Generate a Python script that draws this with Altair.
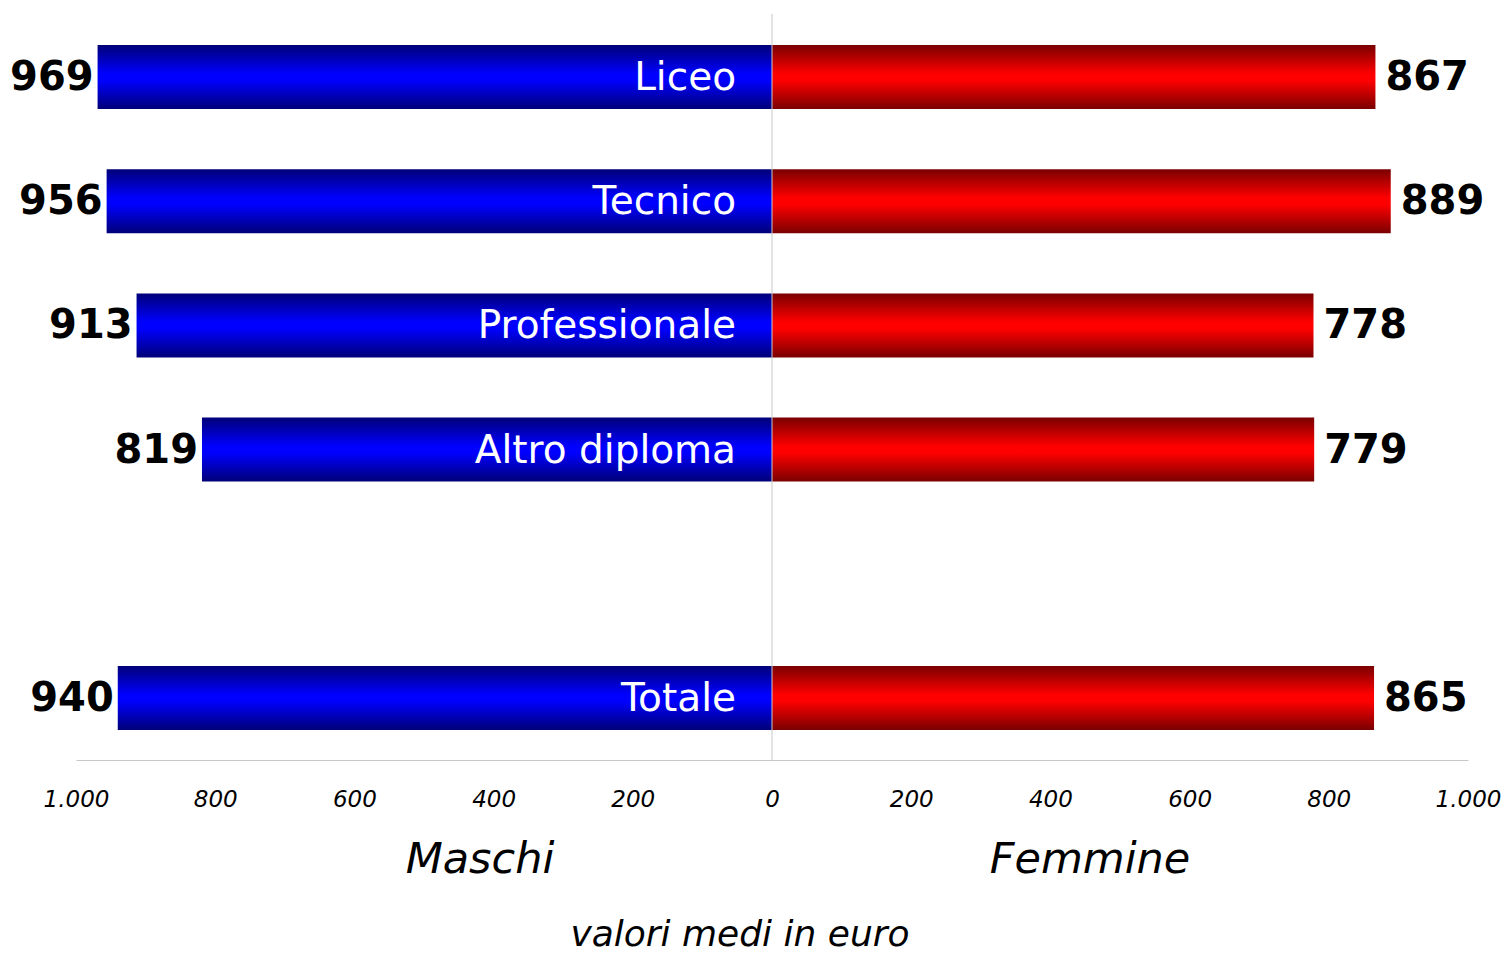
import altair as alt
import pandas as pd

categories = ["Liceo", "Tecnico", "Professionale", "Altro diploma", "Totale"]
maschi = [969, 956, 913, 819, 940]
femmine = [867, 889, 778, 779, 865]
y_domain = ["Liceo", "Tecnico", "Professionale", "Altro diploma", " ", "Totale"]
tick_values = [-1000, -800, -600, -400, -200, 0, 200, 400, 600, 800, 1000]

rows = []
for c, m, f in zip(categories, maschi, femmine):
    rows.append({"cat": c, "sesso": "Maschi", "val": -m, "lab": str(m)})
    rows.append({"cat": c, "sesso": "Femmine", "val": f, "lab": str(f)})
df = pd.DataFrame(rows)
dfm = df[df.sesso == "Maschi"]
dff = df[df.sesso == "Femmine"]

W, H = 1392, 745
FONT = "DejaVu Sans"

xscale = alt.Scale(domain=[-1000, 1000], nice=False, zero=True)
yscale = alt.Scale(domain=y_domain, paddingInner=0.485, paddingOuter=0.2425)

xenc = alt.X("val:Q", scale=xscale, axis=alt.Axis(
    values=tick_values, title=None, grid=False, ticks=False,
    domainColor="#c8c8c8", domainWidth=1, labelFlush=False,
    labelFont=FONT, labelFontSize=23, labelFontStyle="italic", labelColor="#000000",
    labelPadding=28,
    labelExpr="replace(format(abs(datum.value), ','), ',', '.')"))
yenc = alt.Y("cat:N", scale=yscale, axis=None)

blue = alt.Gradient(gradient="linear", x1=0, x2=0, y1=0, y2=1, stops=[
    alt.GradientStop(color="#000078", offset=0),
    alt.GradientStop(color="#0000ff", offset=0.45),
    alt.GradientStop(color="#0000ff", offset=0.55),
    alt.GradientStop(color="#000078", offset=1)])
red = alt.Gradient(gradient="linear", x1=0, x2=0, y1=0, y2=1, stops=[
    alt.GradientStop(color="#7a0000", offset=0),
    alt.GradientStop(color="#ff0000", offset=0.45),
    alt.GradientStop(color="#ff0000", offset=0.55),
    alt.GradientStop(color="#7a0000", offset=1)])

bars_m = alt.Chart(dfm).mark_bar(fill=blue).encode(x=xenc, y=yenc)
bars_f = alt.Chart(dff).mark_bar(fill=red).encode(x=xenc, y=yenc)

lab_m = alt.Chart(dfm).mark_text(align="right", baseline="middle", dx=-4, dy=1,
                                 font=FONT, fontSize=40, fontWeight="bold", color="#000000").encode(
    x="val:Q", y=yenc, text="lab:N")
lab_f = alt.Chart(dff).mark_text(align="left", baseline="middle", dx=10, dy=1,
                                 font=FONT, fontSize=40, fontWeight="bold", color="#000000").encode(
    x="val:Q", y=yenc, text="lab:N")
lab_c = alt.Chart(dfm).mark_text(align="right", baseline="middle", dx=-36, dy=1,
                                 font=FONT, fontSize=39, color="#ffffff").encode(
    x=alt.datum(0), y=yenc, text="cat:N")

zero_rule = alt.Chart(dfm.head(1)).mark_rule(color="#c8c8c8", strokeWidth=1).encode(
    x=alt.datum(0), y=alt.value(-1), y2=alt.value(H))

txt_style = dict(font=FONT, fontStyle="italic", color="#000000", baseline="middle", align="center")
t_m = alt.Chart(dfm.head(1)).mark_text(fontSize=43, **txt_style).encode(
    x=alt.value(404), y=alt.value(845), text=alt.value("Maschi"))
t_f = alt.Chart(dfm.head(1)).mark_text(fontSize=43, **txt_style).encode(
    x=alt.value(1014), y=alt.value(845), text=alt.value("Femmine"))
t_v = alt.Chart(dfm.head(1)).mark_text(fontSize=36, **txt_style).encode(
    x=alt.value(664), y=alt.value(920), text=alt.value("valori medi in euro"))

chart = alt.layer(bars_m, bars_f, zero_rule, lab_m, lab_f, lab_c, t_m, t_f, t_v).properties(
    width=W, height=H,
    autosize=alt.AutoSizeParams(type="none"),
    padding={"left": 68, "top": 7, "right": 34, "bottom": 193},
).configure_view(stroke=None)

chart.save("out.html", embed_options={"renderer": "svg", "actions": False})
